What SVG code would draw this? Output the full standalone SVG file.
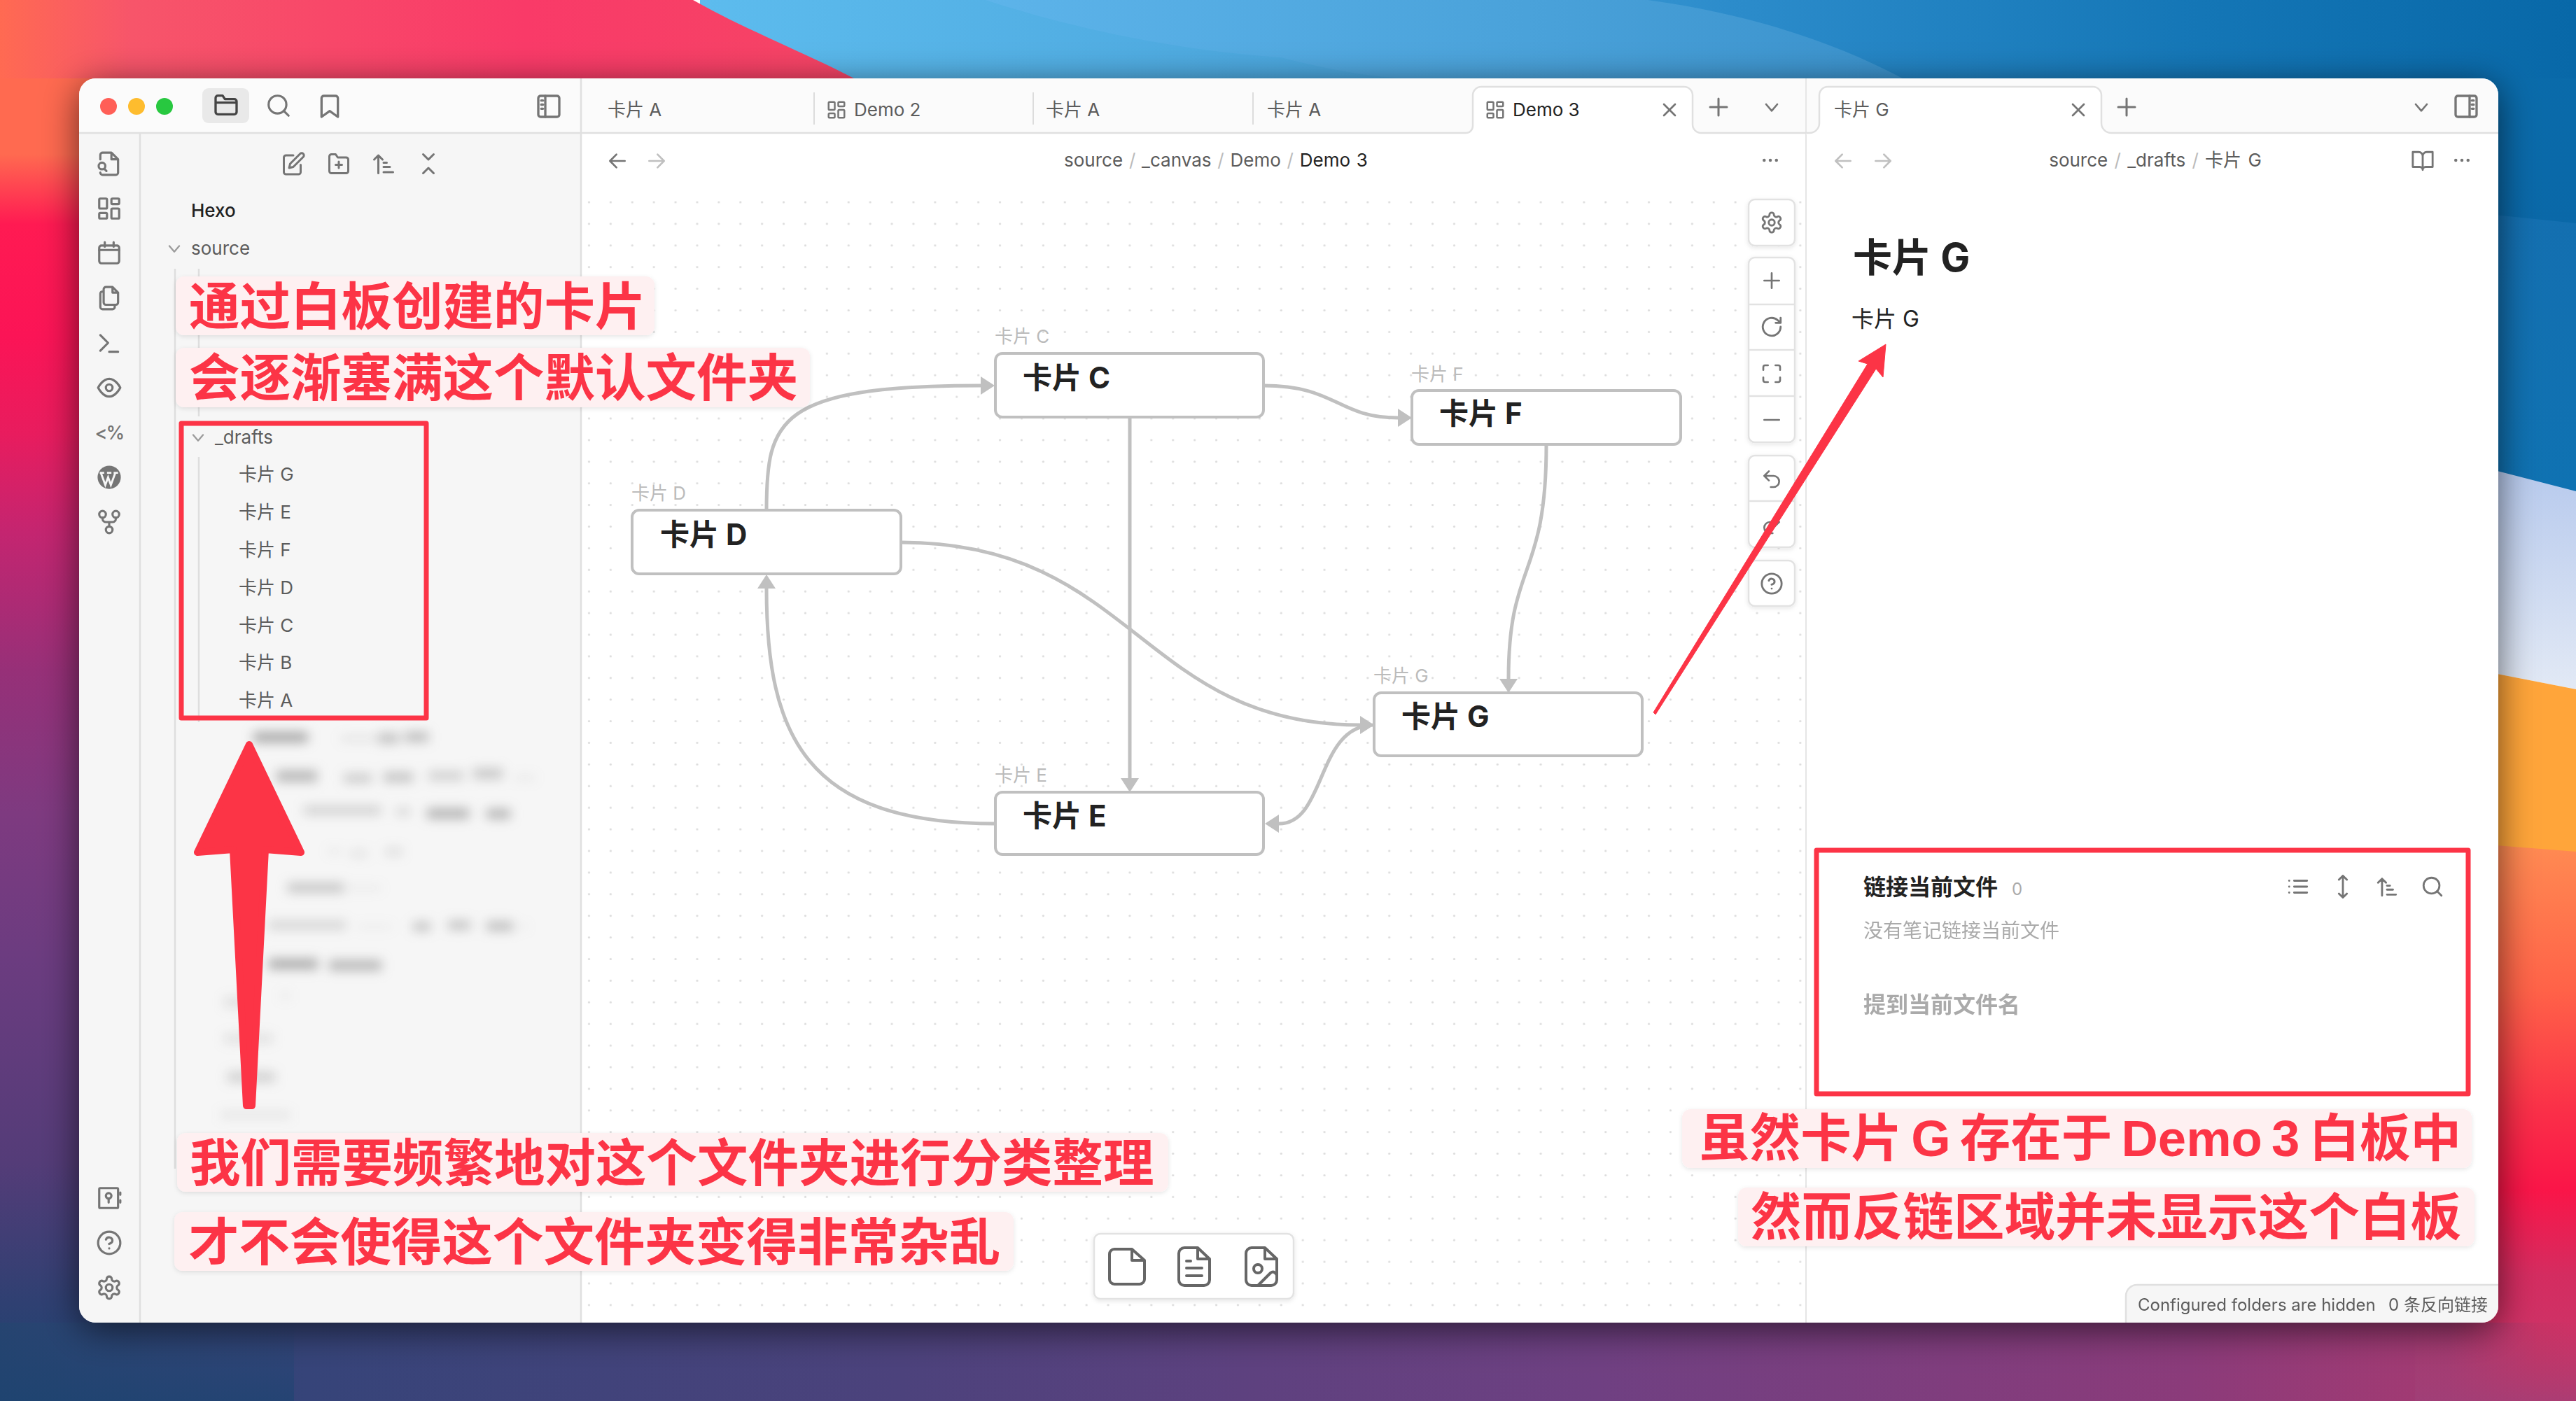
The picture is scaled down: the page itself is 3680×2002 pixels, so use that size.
<svg xmlns="http://www.w3.org/2000/svg" width="3680" height="2002" viewBox="0 0 3680 2002">
<style>
text{font-family:Inter,"Noto Sans CJK SC",sans-serif;fill:#5c5c5c;font-size:26px}
.i{fill:none;stroke:#757575;stroke-width:2;stroke-linecap:round;stroke-linejoin:round}
.faint{opacity:.45}
.lab{fill:#bbb}
.nt{font-size:42px;font-weight:700;fill:#222}
.node{fill:#fff;stroke:#c0c0c0;stroke-width:4}
.conn{fill:none;stroke:#c0c0c0;stroke-width:5}
.btn{fill:#fff;stroke:#e2e2e2;stroke-width:2.5;filter:url(#soft)}
.sep{stroke:#e2e2e2;stroke-width:2.5}
.div{stroke:#e0e0e0;stroke-width:2.5;fill:none}
.note{fill:#fef0f1;filter:url(#soft)}
.nt2{font-family:"Liberation Sans","Noto Sans CJK SC",sans-serif;font-size:72.5px;font-weight:700;fill:#fc3446}
.redbox{fill:none;stroke:#fc3446;stroke-width:7;stroke-linejoin:round}
</style>
<defs>
<linearGradient id="gLeft" gradientUnits="userSpaceOnUse" x1="0" y1="0" x2="0" y2="2002">
<stop offset="0" stop-color="#ff6a50"/><stop offset=".11" stop-color="#ff6a50"/><stop offset=".16" stop-color="#ff1a52"/><stop offset=".24" stop-color="#fb1456"/><stop offset=".31" stop-color="#e81c5e"/><stop offset=".38" stop-color="#c42570"/><stop offset=".48" stop-color="#963078"/><stop offset=".58" stop-color="#7e3a80"/><stop offset=".68" stop-color="#6c3c80"/><stop offset=".83" stop-color="#543c78"/><stop offset=".93" stop-color="#2f4072"/><stop offset="1" stop-color="#1a4470"/>
</linearGradient>
<linearGradient id="gTopRed" gradientUnits="userSpaceOnUse" x1="0" y1="0" x2="1250" y2="0">
<stop offset="0" stop-color="#ff6a52"/><stop offset=".15" stop-color="#f7556a"/><stop offset=".6" stop-color="#f93a68"/><stop offset="1" stop-color="#f54565"/>
</linearGradient>
<linearGradient id="gTopBlue" gradientUnits="userSpaceOnUse" x1="990" y1="0" x2="3680" y2="0">
<stop offset="0" stop-color="#5dbcee"/><stop offset=".35" stop-color="#4aa5dc"/><stop offset=".55" stop-color="#2c8ccb"/><stop offset=".8" stop-color="#1476b6"/><stop offset="1" stop-color="#0868a8"/>
</linearGradient>
<linearGradient id="gTopBlue2" gradientUnits="userSpaceOnUse" x1="1400" y1="0" x2="2700" y2="0">
<stop offset="0" stop-color="#5db4ea"/><stop offset=".6" stop-color="#4aa2da"/><stop offset="1" stop-color="#3b92cc"/>
</linearGradient>
<linearGradient id="gR1" x1="0" y1="0" x2="0" y2="1"><stop offset="0" stop-color="#0a6cab"/><stop offset="1" stop-color="#0a68a8"/></linearGradient>
<linearGradient id="gR2" x1="0" y1="0" x2="0" y2="1"><stop offset="0" stop-color="#146fb0"/><stop offset="1" stop-color="#0f72b2"/></linearGradient>
<linearGradient id="gR3" x1="0" y1="0" x2="0" y2="1"><stop offset="0" stop-color="#b2c6ec"/><stop offset="1" stop-color="#e2e9f5"/></linearGradient>
<linearGradient id="gR4" gradientUnits="userSpaceOnUse" x1="0" y1="1210" x2="0" y2="1890">
<stop offset="0" stop-color="#ff8a52"/><stop offset=".3" stop-color="#ff6248"/><stop offset=".55" stop-color="#fa3048"/><stop offset=".72" stop-color="#fa1548"/><stop offset=".9" stop-color="#d42c60"/><stop offset="1" stop-color="#cf3165"/>
</linearGradient>
<linearGradient id="gBot" gradientUnits="userSpaceOnUse" x1="0" y1="0" x2="3680" y2="0">
<stop offset="0" stop-color="#264470"/><stop offset=".12" stop-color="#364479"/><stop offset=".35" stop-color="#4c427c"/><stop offset=".62" stop-color="#6f4082"/><stop offset=".85" stop-color="#8b3b7a"/><stop offset=".95" stop-color="#a43a72"/><stop offset=".985" stop-color="#c83264"/><stop offset="1" stop-color="#cf3165"/>
</linearGradient>
<linearGradient id="gBR" x1="0" y1="0" x2="0" y2="1"><stop offset="0" stop-color="#a84070" stop-opacity="0"/><stop offset="1" stop-color="#a04078" stop-opacity=".75"/></linearGradient>
<linearGradient id="gBL" x1="0" y1="0" x2="0" y2="1"><stop offset="0" stop-color="#1a4470" stop-opacity="0"/><stop offset="1" stop-color="#1a4470" stop-opacity=".6"/></linearGradient>
<pattern id="dots" patternUnits="userSpaceOnUse" x="826" y="273.5" width="30.9" height="30.9">
<circle cx="15.45" cy="15.45" r="1.6" fill="#dcdcdc"/>
</pattern>
<filter id="win" x="-5%" y="-8%" width="110%" height="116%"><feDropShadow dx="0" dy="10" stdDeviation="26" flood-color="#000" flood-opacity=".6"/></filter>
<filter id="soft" x="-10%" y="-20%" width="120%" height="140%"><feDropShadow dx="0" dy="2" stdDeviation="3" flood-color="#000" flood-opacity=".1"/></filter>
<filter id="blur" filterUnits="userSpaceOnUse" x="280" y="1020" width="540" height="620"><feGaussianBlur stdDeviation="8"/></filter>
<marker id="ah" markerUnits="userSpaceOnUse" markerWidth="20" markerHeight="26" refX="0" refY="13" orient="auto"><path d="M0 0L20 13L0 26z" fill="#c0c0c0"/></marker>
<symbol id="folder" viewBox="0 0 24 24"><path class="i" style="stroke:#444" d="M3 6a2 2 0 0 1 2-2h4l2 3h8a2 2 0 0 1 2 2v9a2 2 0 0 1-2 2H5a2 2 0 0 1-2-2z M3 10h18"/></symbol>
<symbol id="search" viewBox="0 0 24 24"><circle class="i" cx="11" cy="11" r="8"/><path class="i" d="M21 21l-4.400-4.400"/></symbol>
<symbol id="bookmark" viewBox="0 0 24 24"><path class="i" d="M19 21l-7-5-7 5V5a2 2 0 0 1 2-2h10a2 2 0 0 1 2 2z"/></symbol>
<symbol id="sidebar" viewBox="0 0 24 24"><rect class="i" x="3" y="3" width="18" height="18" rx="2"/><path class="i" d="M9 3v18M5.500 7H7M5.500 10.500H7M5.500 14H7"/></symbol>
<symbol id="sidebar-r" viewBox="0 0 24 24"><rect class="i" x="3" y="3" width="18" height="18" rx="2"/><path class="i" d="M15 3v18M17 7h1.500M17 10.500h1.500M17 14h1.500"/></symbol>
<symbol id="filesearch" viewBox="0 0 24 24"><path class="i" d="M14 2H6a2 2 0 0 0-2 2v4M4 20a2 2 0 0 0 2 2h12a2 2 0 0 0 2-2V8l-6-6v6h6"/><circle class="i" cx="5.500" cy="14" r="3"/><path class="i" d="M8 17l1.500 1.500"/></symbol>
<symbol id="layout" viewBox="0 0 24 24"><rect class="i" x="3" y="3" width="7" height="9" rx="1"/><rect class="i" x="14" y="3" width="7" height="5" rx="1"/><rect class="i" x="14" y="12" width="7" height="9" rx="1"/><rect class="i" x="3" y="16" width="7" height="5" rx="1"/></symbol>
<symbol id="calendar" viewBox="0 0 24 24"><rect class="i" x="3" y="5" width="18" height="16" rx="2"/><path class="i" d="M16 2v4M8 2v4M3 9h18"/></symbol>
<symbol id="copy" viewBox="0 0 24 24"><path class="i" d="M15 2H9a2 2 0 0 0-2 2v12a2 2 0 0 0 2 2h9a2 2 0 0 0 2-2V7z M15 2v5h5 M7 6H6a2 2 0 0 0-2 2v12a2 2 0 0 0 2 2h9a2 2 0 0 0 2-2v-1"/></symbol>
<symbol id="term" viewBox="0 0 24 24"><path class="i" d="M4 5l7 7-7 7M12 20h8"/></symbol>
<symbol id="eye" viewBox="0 0 24 24"><path class="i" d="M2 12s4-8 10-8 10 8 10 8-4 8-10 8-10-8-10-8z"/><circle class="i" cx="12" cy="12" r="3"/></symbol>
<symbol id="wp" viewBox="0 0 24 24"><circle cx="12" cy="12" r="10.500" fill="#757575"/><path d="M4.500 8l4 11 2.500-7 2.500 7 4-11M3.500 8h4M10 8h4M16 8h4" fill="none" stroke="#f6f6f6" stroke-width="1.800"/></symbol>
<symbol id="fork" viewBox="0 0 24 24"><circle class="i" cx="6" cy="5" r="3"/><circle class="i" cx="18" cy="5" r="3"/><circle class="i" cx="12" cy="19" r="3"/><path class="i" d="M6 8v1a3 3 0 0 0 3 3h6a3 3 0 0 0 3-3V8M12 12v4"/></symbol>
<symbol id="vault" viewBox="0 0 24 24"><rect class="i" x="3" y="3" width="17" height="18" rx="1"/><circle class="i" cx="11.500" cy="10" r="2.500"/><path class="i" d="M11.500 12.500V16M22 7v2M22 14v2"/></symbol>
<symbol id="help" viewBox="0 0 24 24"><circle class="i" cx="12" cy="12" r="10"/><path class="i" d="M9.100 9a3 3 0 0 1 5.800 1c0 2-3 3-3 3M12 17h.01"/></symbol>
<symbol id="gear" viewBox="0 0 24 24"><path class="i" d="M12.220 2h-.44a2 2 0 0 0-2 2v.18a2 2 0 0 1-1 1.730l-.43.25a2 2 0 0 1-2 0l-.15-.08a2 2 0 0 0-2.730.73l-.22.38a2 2 0 0 0 .73 2.730l.15.1a2 2 0 0 1 1 1.720v.51a2 2 0 0 1-1 1.740l-.15.09a2 2 0 0 0-.73 2.730l.22.38a2 2 0 0 0 2.730.73l.15-.08a2 2 0 0 1 2 0l.43.25a2 2 0 0 1 1 1.730V20a2 2 0 0 0 2 2h.44a2 2 0 0 0 2-2v-.18a2 2 0 0 1 1-1.730l.43-.25a2 2 0 0 1 2 0l.15.08a2 2 0 0 0 2.730-.73l.22-.39a2 2 0 0 0-.73-2.730l-.15-.08a2 2 0 0 1-1-1.740v-.5a2 2 0 0 1 1-1.740l.15-.09a2 2 0 0 0 .73-2.730l-.22-.38a2 2 0 0 0-2.730-.73l-.15.08a2 2 0 0 1-2 0l-.43-.25a2 2 0 0 1-1-1.730V4a2 2 0 0 0-2-2z"/><circle class="i" cx="12" cy="12" r="3"/></symbol>
<symbol id="edit" viewBox="0 0 24 24"><path class="i" d="M12 4H5a2 2 0 0 0-2 2v14a2 2 0 0 0 2 2h12a2 2 0 0 0 2-2v-7M18.500 2.500a2.100 2.100 0 0 1 3 3L12 15l-4 1 1-4z"/></symbol>
<symbol id="folderplus" viewBox="0 0 24 24"><path class="i" d="M5 3h4l2 3h8a2 2 0 0 1 2 2v11a2 2 0 0 1-2 2H5a2 2 0 0 1-2-2V5a2 2 0 0 1 2-2zM12 10v6M9 13h6"/></symbol>
<symbol id="sort" viewBox="0 0 24 24"><path class="i" d="M7 21V4M3 8l4-4 4 4M12 11h3M12 15h6M12 20h9"/></symbol>
<symbol id="collapse" viewBox="0 0 24 24"><path class="i" d="M7 3l5 5 5-5M7 21l5-5 5 5"/></symbol>
<symbol id="chev" viewBox="0 0 24 24"><path class="i" d="M6 9l6 7 6-7"/></symbol>
<symbol id="x" viewBox="0 0 24 24"><path class="i" d="M18 6L6 18M6 6l12 12"/></symbol>
<symbol id="plus" viewBox="0 0 24 24"><path class="i" d="M12 4v16M4 12h16"/></symbol>
<symbol id="left" viewBox="0 0 24 24"><path class="i" d="M20 12H4M11 19l-7-7 7-7"/></symbol>
<symbol id="right" viewBox="0 0 24 24"><path class="i" d="M4 12h16M13 5l7 7-7 7"/></symbol>
<symbol id="dots3" viewBox="0 0 24 24"><circle cx="5" cy="12" r="1.800" fill="#757575"/><circle cx="12" cy="12" r="1.800" fill="#757575"/><circle cx="19" cy="12" r="1.800" fill="#757575"/></symbol>
<symbol id="refresh" viewBox="0 0 24 24"><path class="i" d="M21 12a9 9 0 1 1-3-6.700L21 8M21 3v5h-5"/></symbol>
<symbol id="full" viewBox="0 0 24 24"><path class="i" d="M8 3H5a2 2 0 0 0-2 2v3M21 8V5a2 2 0 0 0-2-2h-3M3 16v3a2 2 0 0 0 2 2h3M16 21h3a2 2 0 0 0 2-2v-3"/></symbol>
<symbol id="minus" viewBox="0 0 24 24"><path class="i" d="M4 12h16"/></symbol>
<symbol id="undo" viewBox="0 0 24 24"><path class="i" d="M9 14L4 9l5-5M4 9h10a6 6 0 0 1 0 12h-3"/></symbol>
<symbol id="redo" viewBox="0 0 24 24"><path class="i" d="M15 14l5-5-5-5M20 9H10a6 6 0 0 0 0 12h3"/></symbol>
<symbol id="book" viewBox="0 0 24 24"><path class="i" d="M2 3h6a4 4 0 0 1 4 4v14a3 3 0 0 0-3-3H2zM22 3h-6a4 4 0 0 0-4 4v14a3 3 0 0 1 3-3h7z"/></symbol>
<symbol id="list" viewBox="0 0 24 24"><path class="i" d="M8 6h13M8 12h13M8 18h13M3 6h.01M3 12h.01M3 18h.01"/></symbol>
<symbol id="updown" viewBox="0 0 24 24"><path class="i" d="M12 1v22M8 5l4-4 4 4M8 19l4 4 4-4"/></symbol>
</defs>

<g id="wallpaper">
<rect x="0" y="0" width="200" height="1890" fill="url(#gLeft)"/>
<rect x="3400" y="1190" width="280" height="700" fill="url(#gR4)"/>
<rect x="0" y="1890" width="3680" height="112" fill="url(#gBot)"/>
<rect x="3450" y="1890" width="230" height="112" fill="url(#gBR)"/>
<rect x="0" y="1890" width="420" height="112" fill="url(#gBL)"/>
<path d="M3400 0H3680V330L3400 290z" fill="url(#gR1)"/>
<path d="M3400 290L3680 319V704L3400 640z" fill="url(#gR2)"/>
<path d="M3400 630L3680 702V985L3400 930z" fill="url(#gR3)"/>
<path d="M3400 930L3680 985V1217L3400 1195z" fill="#ffa53a"/>
<path d="M1000 0H3680V112H1000z" fill="url(#gTopBlue)"/>
<path d="M1408 0C1500 30 1650 70 1830 82C1920 105 1980 112 2018 112H2718C2620 60 2500 20 2354 0z" fill="url(#gTopBlue2)"/>
<path d="M0 0H990C1060 40 1160 80 1220 112H0z" fill="url(#gTopRed)"/>
</g>

<g id="window">
<rect x="113" y="112" width="3456" height="1778" rx="24" fill="#fff" filter="url(#win)"/>
<path d="M113 190V136a24 24 0 0 1 24-24H3545a24 24 0 0 1 24 24V190z" fill="#fbfbfb"/>
<path d="M113 190H830V1890H137a24 24 0 0 1-24-24z" fill="#f6f6f6"/>
<rect x="831" y="272" width="1748" height="1618" fill="url(#dots)"/>
<path class="div" d="M200 190V1890M830 112V1890M113 190H830"/>
<path d="M2580 112V1890" stroke="#e6e6e6" stroke-width="2"/>
<path d="M2104 180V136a12 12 0 0 1 12-12H2406a12 12 0 0 1 12 12V178a12 12 0 0 0 12 12H2585a14 14 0 0 0 14-14V136a12 12 0 0 1 12-12H2990a12 12 0 0 1 12 12V176a14 14 0 0 0 14 14H3569V192H2580V191H831V190H2094a10 10 0 0 0 10-10z" fill="#fff"/>
<path class="div" d="M831 190H2094a10 10 0 0 0 10-10V136a12 12 0 0 1 12-12H2406a12 12 0 0 1 12 12V178a12 12 0 0 0 12 12H2585a14 14 0 0 0 14-14V136a12 12 0 0 1 12-12H2990a12 12 0 0 1 12 12V176a14 14 0 0 0 14 14H3569"/>
<path d="M1163 132V178M1476 132V178M1790 132V178" stroke="#dcdcdc" stroke-width="2"/>
</g>

<g id="traffic-lights">
<circle cx="155" cy="152" r="12" fill="#ff5f57"/><circle cx="195" cy="152" r="12" fill="#febc2e"/><circle cx="235" cy="152" r="12" fill="#28c840"/>
<rect x="289" y="126" width="67" height="50" rx="9" fill="#e9e9e9"/>
<use href="#folder" x="303" y="130" width="40" height="40"/>
<use href="#search" x="379" y="132" width="38" height="38"/>
<use href="#bookmark" x="451" y="132" width="40" height="40"/>
<use href="#sidebar" x="764" y="132" width="40" height="40"/>
</g>

<g id="ribbon">
<use href="#filesearch" x="137" y="215" width="38" height="38"/>
<use href="#layout" x="137" y="279" width="38" height="38"/>
<use href="#calendar" x="137" y="343" width="38" height="38"/>
<use href="#copy" x="137" y="407" width="38" height="38"/>
<use href="#term" x="137" y="471" width="38" height="38"/>
<use href="#eye" x="137" y="535" width="38" height="38"/>
<text x="156" y="628" text-anchor="middle" style="font-size:27px;fill:#757575;font-weight:500;letter-spacing:-2px">&lt;%</text>
<use href="#wp" x="137" y="663" width="38" height="38"/>
<use href="#fork" x="137" y="727" width="38" height="38"/>
<use href="#vault" x="137" y="1693" width="38" height="38"/>
<use href="#help" x="137" y="1757" width="38" height="38"/>
<use href="#gear" x="137" y="1821" width="38" height="38"/>
</g>

<g id="file-tree">
<use href="#edit" x="401" y="216" width="36" height="36"/>
<use href="#folderplus" x="466" y="216" width="36" height="36"/>
<use href="#sort" x="530" y="216" width="36" height="36"/>
<use href="#collapse" x="594" y="216" width="36" height="36"/>
<text x="273" y="310" style="fill:#222;font-weight:500">Hexo</text>
<use href="#chev" x="235" y="341" width="28" height="28" opacity=".7"/>
<text x="273" y="364">source</text>
<path d="M250 384V1670M284 384V595M284 653V1032" stroke="#dedede" stroke-width="2.500" fill="none"/>
<use href="#chev" x="269" y="611" width="28" height="28" opacity=".7"/>
<text x="307" y="634">_drafts</text>
<text x="341" y="687">卡片 G</text>
<text x="341" y="741">卡片 E</text>
<text x="341" y="795">卡片 F</text>
<text x="341" y="849">卡片 D</text>
<text x="341" y="903">卡片 C</text>
<text x="341" y="956">卡片 B</text>
<text x="341" y="1010">卡片 A</text>
<g id="blurred-rows" filter="url(#blur)" fill="#a8a8a8">
<rect x="361" y="1046" width="80" height="15" rx="7"/><rect x="487" y="1052" width="50" height="7" opacity=".3"/><rect x="540" y="1048" width="30" height="14" opacity=".7"/><rect x="578" y="1046" width="34" height="14" opacity=".75"/>
<rect x="395" y="1101" width="58" height="16" opacity=".8"/><rect x="491" y="1106" width="40" height="12" opacity=".6"/><rect x="548" y="1104" width="42" height="13" opacity=".7"/><rect x="612" y="1102" width="50" height="13" opacity=".5"/><rect x="676" y="1098" width="42" height="15" opacity=".6"/><rect x="735" y="1108" width="30" height="7" opacity=".2"/>
<rect x="434" y="1152" width="110" height="12" opacity=".5"/><rect x="566" y="1155" width="20" height="10" opacity=".45"/><rect x="610" y="1155" width="60" height="15" opacity=".85"/><rect x="695" y="1156" width="34" height="14" opacity=".85"/>
<rect x="468" y="1213" width="20" height="7" opacity=".2"/><rect x="500" y="1215" width="25" height="10" opacity=".25"/><rect x="550" y="1212" width="25" height="10" opacity=".35"/>
<rect x="411" y="1262" width="80" height="13" opacity=".65"/><rect x="495" y="1266" width="50" height="6" opacity=".2"/>
<rect x="384" y="1316" width="110" height="12" opacity=".45"/><rect x="510" y="1322" width="50" height="5" opacity=".2"/><rect x="590" y="1318" width="25" height="12" opacity=".7"/><rect x="640" y="1316" width="32" height="12" opacity=".7"/><rect x="695" y="1317" width="38" height="13" opacity=".75"/><rect x="742" y="1322" width="12" height="5" opacity=".2"/>
<rect x="384" y="1370" width="70" height="15" opacity=".95"/><rect x="470" y="1372" width="75" height="15" opacity=".8"/>
<rect x="320" y="1425" width="40" height="14" opacity=".3"/><rect x="400" y="1418" width="15" height="10" opacity=".15"/>
<rect x="320" y="1478" width="70" height="12" opacity=".3"/>
<rect x="325" y="1532" width="68" height="14" opacity=".5"/>
<rect x="315" y="1588" width="100" height="10" opacity=".22"/>
</g>
</g>

<g id="tabs">
<text x="868" y="166">卡片 A</text>
<use href="#layout" x="1180" y="142" width="30" height="30"/><text x="1220" y="166">Demo 2</text>
<text x="1494" y="166">卡片 A</text>
<text x="1810" y="166">卡片 A</text>
<use href="#layout" x="2121" y="142" width="30" height="30"/><text x="2161" y="166" style="fill:#222">Demo 3</text>
<use href="#x" x="2369" y="141" width="32" height="32"/>
<use href="#plus" x="2437" y="135" width="36" height="36"/>
<use href="#chev" x="2515" y="137" width="32" height="32"/>
<text x="2620" y="166">卡片 G</text>
<use href="#x" x="2953" y="141" width="32" height="32"/>
<use href="#plus" x="3020" y="135" width="36" height="36"/>
<use href="#chev" x="3443" y="137" width="32" height="32"/>
<use href="#sidebar-r" x="3503" y="132" width="40" height="40"/>
</g>

<g id="breadcrumbs">
<use href="#left" x="866" y="214" width="32" height="32"/>
<use href="#right" class="faint" x="922" y="214" width="32" height="32"/>
<text x="1737" y="238" text-anchor="middle" word-spacing="1.500">source <tspan style="fill:#bbb">/</tspan> _canvas <tspan style="fill:#bbb">/</tspan> Demo <tspan style="fill:#bbb">/</tspan> <tspan style="fill:#222">Demo 3</tspan></text>
<use href="#dots3" x="2514" y="214" width="30" height="30"/>
<use href="#left" class="faint" x="2617" y="214" width="32" height="32"/>
<use href="#right" class="faint" x="2674" y="214" width="32" height="32"/>
<text x="3079" y="238" text-anchor="middle" word-spacing="2">source <tspan style="fill:#bbb">/</tspan> _drafts <tspan style="fill:#bbb">/</tspan> 卡片 G</text>
<use href="#book" x="3444" y="213" width="34" height="34"/>
<use href="#dots3" x="3502" y="214" width="30" height="30"/>
</g>

<g id="connectors">
<path class="conn" d="M1095 729C1095 600 1110 551 1401 551" marker-end="url(#ah)"/>
<path class="conn" d="M1805 551C1910 551 1910 597 1997 597" marker-end="url(#ah)"/>
<path class="conn" d="M1614 596V1112" marker-end="url(#ah)"/>
<path class="conn" d="M2209 635C2209 830 2155 800 2155 970" marker-end="url(#ah)"/>
<path class="conn" d="M1287 775C1620 775 1630 1036 1943 1036" marker-end="url(#ah)"/>
<path class="conn" d="M1963 1036C1880 1036 1895 1177 1827 1177" marker-end="url(#ah)"/>
<path class="conn" d="M1422 1177C1150 1177 1095 1050 1095 841" marker-end="url(#ah)"/>
</g>

<g id="node-c"><text class="lab" x="1421" y="490">卡片 C</text><rect class="node" x="1422" y="505" width="383" height="91" rx="10"/><text class="nt" x="1461" y="555">卡片 C</text></g>
<g id="node-f"><text class="lab" x="2016" y="544">卡片 F</text><rect class="node" x="2017" y="558" width="384" height="77" rx="10"/><text class="nt" x="2056" y="606">卡片 F</text></g>
<g id="node-d"><text class="lab" x="902" y="714">卡片 D</text><rect class="node" x="903" y="729" width="384" height="91" rx="10"/><text class="nt" x="943" y="779">卡片 D</text></g>
<g id="node-g"><text class="lab" x="1962" y="975">卡片 G</text><rect class="node" x="1963" y="990" width="383" height="90" rx="10"/><text class="nt" x="2002" y="1039">卡片 G</text></g>
<g id="node-e"><text class="lab" x="1421" y="1117">卡片 E</text><rect class="node" x="1422" y="1132" width="383" height="89" rx="10"/><text class="nt" x="1461" y="1181">卡片 E</text></g>

<g id="canvas-controls">
<rect class="btn" x="2498" y="285" width="66" height="66" rx="9"/>
<use href="#gear" x="2514" y="301" width="34" height="34"/>
<rect class="btn" x="2498" y="368" width="66" height="264" rx="9"/>
<path class="sep" d="M2498 435H2564M2498 500H2564M2498 566H2564"/>
<use href="#plus" x="2515" y="385" width="32" height="32"/>
<use href="#refresh" x="2514" y="450" width="34" height="34"/>
<use href="#full" x="2515" y="518" width="32" height="32"/>
<use href="#minus" x="2515" y="584" width="32" height="32"/>
<rect class="btn" x="2498" y="651" width="66" height="131" rx="9"/>
<path class="sep" d="M2498 716H2564"/>
<use href="#undo" x="2515" y="668" width="32" height="32"/>
<use href="#redo" x="2515" y="734" width="32" height="32"/>
<rect class="btn" x="2498" y="801" width="66" height="65" rx="9"/>
<use href="#help" x="2514" y="817" width="34" height="34"/>
</g>

<g id="create-toolbar">
<rect class="btn" x="1563" y="1763" width="285" height="93" rx="9"/>
<g fill="none" stroke="#666" stroke-width="4" stroke-linejoin="round" stroke-linecap="round">
<path d="M1617 1785H1592a7 7 0 0 0-7 7V1828a7 7 0 0 0 7 7H1628a7 7 0 0 0 7-7V1801L1617 1785V1801H1635"/>
<path d="M1711 1783H1692a8 8 0 0 0-8 8V1829a8 8 0 0 0 8 8H1720a8 8 0 0 0 8-8V1799L1711 1783V1799H1728M1695 1802H1701M1695 1812H1717M1695 1823H1717"/>
<path d="M1807 1783H1788a8 8 0 0 0-8 8V1829a8 8 0 0 0 8 8H1816a8 8 0 0 0 8-8V1799L1807 1783V1799H1824M1797 1837L1815 1819Q1820 1815 1824 1822"/>
<circle cx="1797" cy="1813" r="6"/>
</g>
</g>

<g id="note-pane">
<text x="2647" y="388" style="font-size:56px;font-weight:700;fill:#222">卡片 G</text>
<text x="2645" y="467" style="font-size:32px;fill:#222">卡片 G</text>
<text x="2662" y="1279" style="font-size:32px;font-weight:700;fill:#222">链接当前文件</text>
<text x="2874" y="1279" style="font-size:24px;fill:#aaa">0</text>
<use href="#list" x="3266" y="1250" width="34" height="34"/>
<use href="#updown" x="3330" y="1250" width="34" height="34"/>
<use href="#sort" x="3393" y="1250" width="34" height="34"/>
<use href="#search" x="3458" y="1250" width="34" height="34"/>
<text x="2662" y="1340" style="font-size:28px;fill:#aaa">没有笔记链接当前文件</text>
<text x="2662" y="1447" style="font-size:32px;font-weight:700;fill:#aaa">提到当前文件名</text>
</g>

<g id="status-bar">
<path d="M3037 1890V1852a16 16 0 0 1 16-16H3569V1866a24 24 0 0 1-24 24z" fill="#f6f6f6"/>
<path class="div" d="M3037 1890V1852a16 16 0 0 1 16-16H3569"/>
<text x="3054" y="1873" style="font-size:24px">Configured folders are hidden</text>
<text x="3412" y="1873" style="font-size:24px">0 条反向链接</text>
</g>

<g id="annotations">
<rect class="redbox" x="259" y="605" width="350" height="421"/>
<rect class="redbox" x="2595" y="1215" width="931" height="348"/>
<path d="M356 1064L430 1218L379 1214L360 1580H352L333 1214L282 1218z" fill="#fc3446" stroke="#fc3446" stroke-width="10" stroke-linejoin="round"/>
<path d="M2694 492L2690 539L2680 527L2365 1021L2362 1018L2668 520L2655 516z" fill="#fc3446" stroke="#fc3446" stroke-width="1" stroke-linejoin="round"/>
<rect class="note" x="251" y="395" width="684" height="84" rx="12"/><text class="nt2" x="270" y="464">通过白板创建的卡片</text>
<rect class="note" x="251" y="497" width="906" height="85" rx="12"/><text class="nt2" x="270" y="566">会逐渐塞满这个默认文件夹</text>
<rect class="note" x="253" y="1619" width="1416" height="84" rx="12"/><text class="nt2" x="271" y="1688">我们需要频繁地对这个文件夹进行分类整理</text>
<rect class="note" x="249" y="1732" width="1199" height="84" rx="12"/><text class="nt2" x="269" y="1801">才不会使得这个文件夹变得非常杂乱</text>
<rect class="note" x="2403" y="1585" width="1128" height="84" rx="12"/><text class="nt2" x="3516" y="1652" text-anchor="end" style="word-spacing:-7px">虽然卡片 G 存在于 Demo 3 白板中</text>
<rect class="note" x="2483" y="1697" width="1052" height="84" rx="12"/><text class="nt2" x="3516" y="1765" text-anchor="end">然而反链区域并未显示这个白板</text>
</g>
</svg>
